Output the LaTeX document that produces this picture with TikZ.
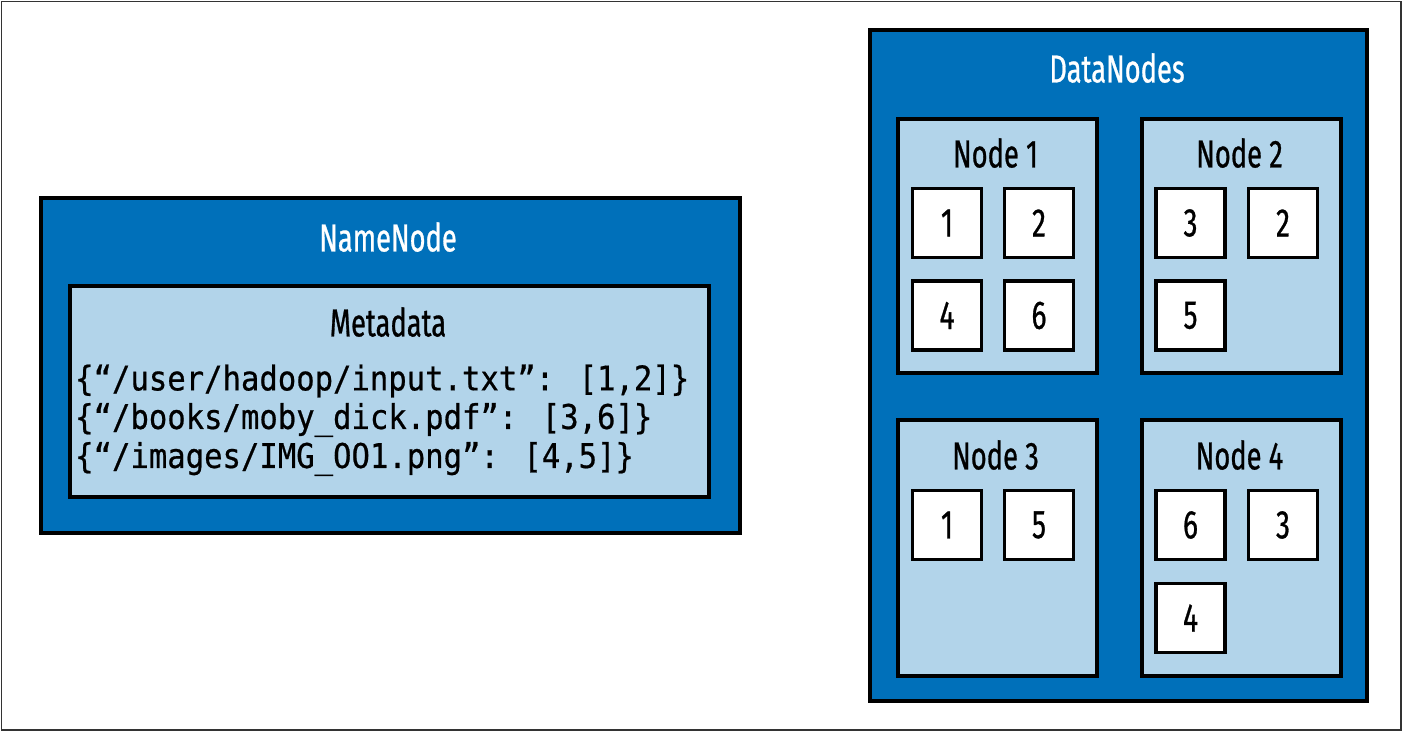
\documentclass[tikz,border=0pt]{standalone}
\usepackage{fontspec}
\setmainfont{Fira Sans}[FakeStretch=0.7,FakeBold=0.7]
\newfontfamily\codefont{DejaVu Sans Mono}[FakeBold=0.6,FakeStretch=0.9]
\definecolor{dblue}{RGB}{0,112,186}
\definecolor{lblue}{RGB}{178,212,234}
\begin{document}
\begin{tikzpicture}[x=1pt,y=-1pt,
  outerbox/.style={draw=black, line width=3.5pt, fill=dblue, anchor=north west, inner sep=0pt},
  innerbox/.style={draw=black, line width=3.5pt, fill=lblue, anchor=north west, inner sep=0pt},
  block/.style={draw=black, line width=3.5pt, fill=white, minimum size=69pt, inner sep=0pt, font=\fontsize{40}{44}\selectfont},
  titletext/.style={font=\fontsize{39}{44}\selectfont, inner sep=0pt},
  codeline/.style={font=\codefont\fontsize{34}{40}\selectfont, anchor=west, inner sep=0pt},
  ]
\useasboundingbox (0,0) rectangle (1403,732);
\draw[line width=1.5pt, draw=black!80] (1.5,1.5) rectangle (1401,730);

% NameNode
\node[outerbox, minimum width=699pt, minimum height=335pt] (namenode) at (39,196) {};
\node[titletext, text=white] (nntitle) at (388,237) {NameNode};
\node[innerbox, minimum width=639pt, minimum height=211pt] (metadata) at (68,284) {};
\node[titletext] (mdtitle) at (388,322) {Metadata};
\node[codeline] (l1) at (75,381) {\{“/user/hadoop/input.txt”: [1,2]\}};
\node[codeline] (l2) at (75,420) {\{“/books/moby\_dick.pdf”: [3,6]\}};
\node[codeline] (l3) at (75,459) {\{“/images/IMG\_OO1.png”: [4,5]\}};

% DataNodes
\node[outerbox, minimum width=497pt, minimum height=671pt] (datanodes) at (868,28) {};
\node[titletext, text=white] (dntitle) at (1117,68) {DataNodes};

\node[innerbox, minimum width=199pt, minimum height=254pt] (n1) at (896,117) {};
\node[innerbox, minimum width=199pt, minimum height=254pt] (n2) at (1140,117) {};
\node[innerbox, minimum width=199pt, minimum height=256pt] (n3) at (896,418) {};
\node[innerbox, minimum width=199pt, minimum height=256pt] (n4) at (1140,418) {};

\node[titletext] (n1t) at (995.5,153) {Node 1};
\node[titletext] (n2t) at (1239.5,153) {Node 2};
\node[titletext] (n3t) at (995.5,455) {Node 3};
\node[titletext] (n4t) at (1239.5,455) {Node 4};

\node[block] (n1a) at (947,223) {1};
\node[block] (n1b) at (1039,223) {2};
\node[block] (n1c) at (947,315.5) {4};
\node[block] (n1d) at (1039,315.5) {6};

\node[block] (n2a) at (1190.5,223) {3};
\node[block] (n2b) at (1283,223) {2};
\node[block] (n2c) at (1190.5,315.5) {5};

\node[block] (n3a) at (947,525) {1};
\node[block] (n3b) at (1039,525) {5};

\node[block] (n4a) at (1190.5,525) {6};
\node[block] (n4b) at (1283,525) {3};
\node[block] (n4c) at (1190.5,618) {4};
\end{tikzpicture}
\end{document}
